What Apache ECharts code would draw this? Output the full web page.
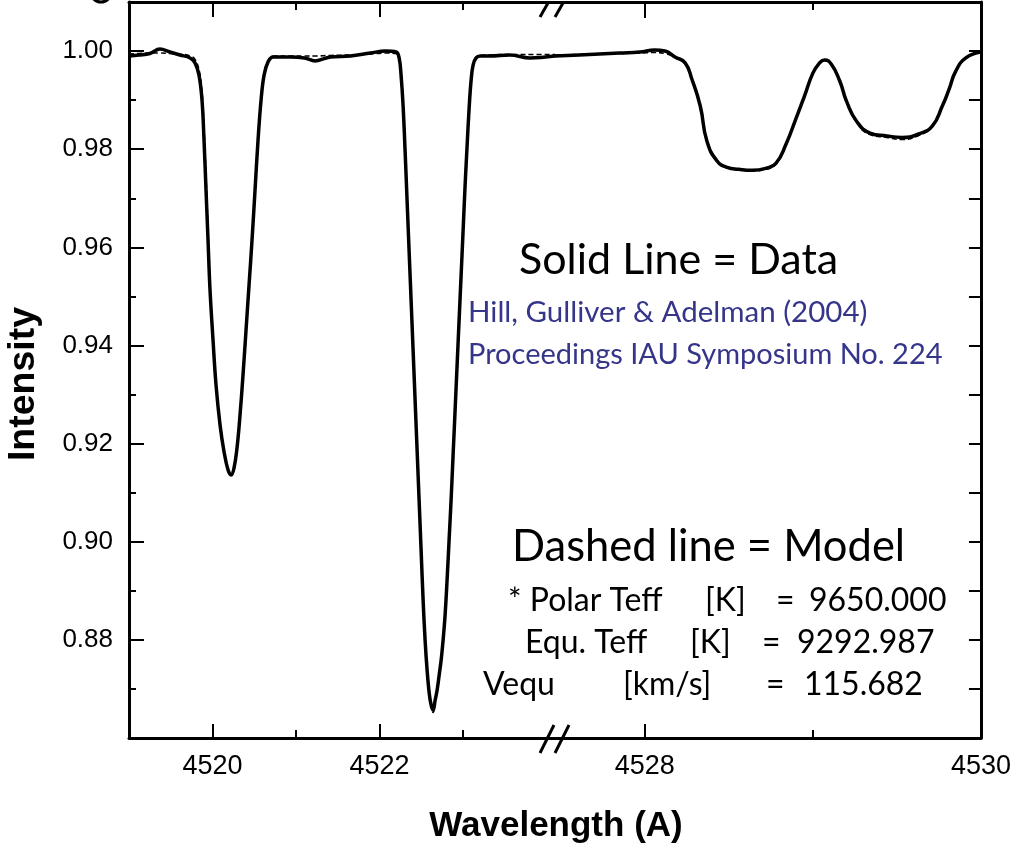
<!DOCTYPE html>
<html>
<head>
<meta charset="utf-8">
<script src="https://cdn.jsdelivr.net/npm/echarts@6/dist/echarts.min.js"></script>
<style>
  html, body { margin: 0; padding: 0; background: #fff; }
  #chart { width: 1014px; height: 849px; }
</style>
</head>
<body>
<div id="chart"></div>
<script>
// ---- Data (wavelength in Angstrom, normalised intensity) ----
// Left panel: 4519.0 - 4524.1 A
const leftWave = [4519.000, 4519.120, 4519.250, 4519.370, 4519.490, 4519.610, 4519.731, 4519.790, 4519.838, 4519.874,
  4519.898, 4519.922, 4519.946, 4519.970, 4520.006, 4520.042, 4520.090, 4520.138, 4520.186, 4520.222,
  4520.257, 4520.293, 4520.329, 4520.365, 4520.401, 4520.437, 4520.473, 4520.509, 4520.545, 4520.581,
  4520.617, 4520.665, 4520.725, 4520.930, 4521.100, 4521.230, 4521.410, 4521.650, 4521.890, 4522.070,
  4522.198, 4522.234, 4522.257, 4522.281, 4522.305, 4522.329, 4522.353, 4522.377, 4522.401, 4522.425,
  4522.449, 4522.473, 4522.497, 4522.521, 4522.545, 4522.569, 4522.593, 4522.617, 4522.641, 4522.665,
  4522.689, 4522.713, 4522.737, 4522.760, 4522.784, 4522.808, 4522.832, 4522.856, 4522.880, 4522.904,
  4522.928, 4522.952, 4522.976, 4523.000, 4523.024, 4523.048, 4523.072, 4523.096, 4523.120, 4523.156,
  4523.204, 4523.320, 4523.560, 4523.800, 4524.100];
const leftData = [0.9990, 0.9992, 0.9995, 1.0004, 0.9998, 0.9992, 0.9986, 0.9976, 0.9951, 0.9900,
  0.9819, 0.9717, 0.9615, 0.9513, 0.9411, 0.9319, 0.9238, 0.9183, 0.9146, 0.9136,
  0.9150, 0.9191, 0.9258, 0.9340, 0.9431, 0.9523, 0.9615, 0.9717, 0.9819, 0.9900,
  0.9951, 0.9978, 0.9988, 0.9988, 0.9986, 0.9980, 0.9988, 0.9990, 0.9996, 1.0000,
  0.9998, 0.9986, 0.9951, 0.9890, 0.9798, 0.9696, 0.9594, 0.9493, 0.9391, 0.9289,
  0.9187, 0.9085, 0.8983, 0.8881, 0.8799, 0.8738, 0.8693, 0.8667, 0.8657, 0.8677,
  0.8698, 0.8728, 0.8759, 0.8799, 0.8850, 0.8922, 0.9003, 0.9085, 0.9177, 0.9268,
  0.9360, 0.9452, 0.9543, 0.9635, 0.9727, 0.9808, 0.9884, 0.9941, 0.9972, 0.9986,
  0.9990, 0.9990, 0.9992, 0.9986, 0.9990];
const leftModel = [0.9994, 0.9995, 0.9996, 0.9996, 0.9995, 0.9994, 0.9990, 0.9983, 0.9962, 0.9918,
  0.9845, 0.9745, 0.9635, 0.9525, 0.9415, 0.9320, 0.9238, 0.9182, 0.9145, 0.9134,
  0.9148, 0.9189, 0.9256, 0.9338, 0.9430, 0.9523, 0.9616, 0.9718, 0.9821, 0.9903,
  0.9953, 0.9980, 0.9990, 0.9990, 0.9990, 0.9990, 0.9991, 0.9992, 0.9994, 0.9996,
  0.9995, 0.9988, 0.9956, 0.9896, 0.9803, 0.9700, 0.9598, 0.9496, 0.9393, 0.9291,
  0.9188, 0.9086, 0.8984, 0.8882, 0.8798, 0.8736, 0.8690, 0.8664, 0.8652, 0.8674,
  0.8696, 0.8727, 0.8758, 0.8799, 0.8851, 0.8923, 0.9005, 0.9087, 0.9178, 0.9270,
  0.9362, 0.9454, 0.9545, 0.9637, 0.9729, 0.9810, 0.9886, 0.9943, 0.9974, 0.9988,
  0.9991, 0.9992, 0.9993, 0.9993, 0.9993];

// Right panel: 4527.47 - 4530.0 A
const rightWave = [4527.466, 4527.61, 4527.73, 4527.85, 4527.97, 4528.06, 4528.12, 4528.18, 4528.24, 4528.28,
  4528.33, 4528.37, 4528.43, 4528.49, 4528.56, 4528.64, 4528.72, 4528.78, 4528.84, 4528.90,
  4528.95, 4529.00, 4529.04, 4529.07, 4529.11, 4529.16, 4529.20, 4529.26, 4529.34, 4529.44,
  4529.53, 4529.63, 4529.71, 4529.77, 4529.81, 4529.85, 4529.91, 4530.00];
const rightData = [0.9990, 0.9992, 0.9994, 0.9996, 0.9998, 1.0002, 1.0000, 0.9988, 0.9976, 0.9943,
  0.9888, 0.9816, 0.9776, 0.9763, 0.9759, 0.9757, 0.9761, 0.9771, 0.9810, 0.9863,
  0.9908, 0.9955, 0.9976, 0.9982, 0.9973, 0.9939, 0.9898, 0.9857, 0.9833, 0.9827,
  0.9824, 0.9831, 0.9847, 0.9888, 0.9922, 0.9959, 0.9986, 0.9998];
const rightModel = [0.9992, 0.9993, 0.9994, 0.9995, 0.9996, 0.9997, 0.9995, 0.9987, 0.9974, 0.9945,
  0.9890, 0.9820, 0.9778, 0.9762, 0.9758, 0.9756, 0.9759, 0.9770, 0.9808, 0.9862,
  0.9908, 0.9954, 0.9975, 0.9981, 0.9972, 0.9940, 0.9898, 0.9855, 0.9830, 0.9824,
  0.9820, 0.9828, 0.9846, 0.9888, 0.9922, 0.9958, 0.9985, 0.9998];

// Tick labels
const leftMajorTicks = [4520, 4522];
const leftMinorTicks = [4521, 4523];
const rightMajorTicks = [4528, 4530];
const rightMinorTicks = [4529];
const yLabelTicks = [0.88, 0.90, 0.92, 0.94, 0.96, 0.98, 1.00];
const yMinorTicks = [0.87, 0.89, 0.91, 0.93, 0.95, 0.97, 0.99];
const yRightTicks = [0.87, 0.88, 0.89, 0.90, 0.91, 0.92, 0.93, 0.94, 0.95, 0.96, 0.97, 0.98, 0.99, 1.00];

// Annotation text
const titleData = 'Solid Line = Data';
const refLine1 = 'Hill, Gulliver & Adelman (2004)';
const refLine2 = 'Proceedings IAU Symposium No. 224';
const titleModel = 'Dashed line = Model';
const paramRows = [
  ['* Polar Teff', '[K]', '=', '9650.000'],
  ['Equ. Teff', '[K]', '=', '9292.987'],
  ['Vequ', '[km/s]', '=', '115.682']
];

// ---- Chart ----
const pair = (xs, ys) => xs.map((x, i) => [x, ys[i]]);
const AX = '#000';
const LBL_FONT = 'Liberation Sans, Arial, sans-serif';
const ANN_FONT = 'Lato, "Open Sans", sans-serif';
const yMin = 0.86, yMax = 1.01;

function xAx(grid, min, max, pos, ticks, len, showLine, labels) {
  return {
    type: 'value', gridIndex: grid, min: min, max: max, position: pos,
    axisLine: { show: showLine, onZero: false, lineStyle: { color: AX, width: 3 } },
    axisTick: { show: true, inside: true, length: len, customValues: ticks, lineStyle: { color: AX, width: 2 } },
    axisLabel: labels ? { show: true, customValues: labels, margin: 15, color: '#000', fontSize: 27, fontFamily: LBL_FONT, formatter: v => String(Math.round(v)) } : { show: false },
    splitLine: { show: false }
  };
}
function yAx(grid, pos, ticks, len, showLine, labels) {
  return {
    type: 'value', gridIndex: grid, min: yMin, max: yMax, position: pos,
    axisLine: { show: showLine, onZero: false, lineStyle: { color: AX, width: 3 } },
    axisTick: { show: true, inside: true, length: len, customValues: ticks, lineStyle: { color: AX, width: 2 } },
    axisLabel: labels ? { show: true, customValues: labels, margin: 16, color: '#000', fontSize: 26, fontFamily: LBL_FONT, formatter: v => v.toFixed(2) } : { show: false },
    splitLine: { show: false }
  };
}

const L0 = 4519.0, L1 = 4524.1, R0 = 4527.466, R1 = 4530.0;
const dataStyle = { color: '#000', width: 3.5 };
const modelStyle = { color: '#000', width: 1.6, type: [5, 3] };

function txt(x, y, text, size, color, extra) {
  return { type: 'text', x: x, y: y, style: Object.assign({ text: text, font: size + 'px ' + ANN_FONT, fill: color || '#000', textVerticalAlign: 'middle' }, extra || {}) };
}

const option = {
  backgroundColor: '#fff',
  animation: false,
  grid: [
    { left: 129, right: 1014 - 555, top: 2, bottom: 849 - 738, containLabel: false },
    { left: 555, right: 1014 - 982, top: 2, bottom: 849 - 738, containLabel: false }
  ],
  xAxis: [
    xAx(0, L0, L1, 'bottom', leftMajorTicks, 14, true, leftMajorTicks),
    xAx(0, L0, L1, 'bottom', leftMinorTicks, 8, false, null),
    xAx(0, L0, L1, 'top', leftMajorTicks, 15, true, null),
    xAx(0, L0, L1, 'top', leftMinorTicks, 8, false, null),
    xAx(1, R0, R1, 'bottom', rightMajorTicks, 14, true, rightMajorTicks),
    xAx(1, R0, R1, 'bottom', rightMinorTicks, 8, false, null),
    xAx(1, R0, R1, 'top', rightMajorTicks, 16, true, null),
    xAx(1, R0, R1, 'top', rightMinorTicks, 8, false, null)
  ],
  yAxis: [
    yAx(0, 'left', yLabelTicks, 15, true, yLabelTicks),
    yAx(0, 'left', yMinorTicks, 7, false, null),
    yAx(1, 'right', yRightTicks, 12, true, null)
  ],
  series: [
    { type: 'line', name: 'Model', xAxisIndex: 0, yAxisIndex: 0, data: pair(leftWave, leftModel),
      showSymbol: false, smooth: 0.4, lineStyle: modelStyle, z: 3 },
    { type: 'line', name: 'Data', xAxisIndex: 0, yAxisIndex: 0, data: pair(leftWave, leftData),
      showSymbol: false, smooth: 0.4, lineStyle: dataStyle, z: 2 },
    { type: 'line', name: 'Model', xAxisIndex: 4, yAxisIndex: 2, data: pair(rightWave, rightModel),
      showSymbol: false, smooth: 0.5, lineStyle: modelStyle, z: 3 },
    { type: 'line', name: 'Data', xAxisIndex: 4, yAxisIndex: 2, data: pair(rightWave, rightData),
      showSymbol: false, smooth: 0.5, lineStyle: dataStyle, z: 2 }
  ],
  graphic: [
    // partial panel marker at top-left
    { type: 'circle', shape: { cx: 101, cy: -8, r: 10 }, style: { fill: 'none', stroke: '#000', lineWidth: 3 } },
    // axis break marks
    { type: 'line', shape: { x1: 540, y1: 17, x2: 548, y2: 3 }, style: { stroke: '#000', lineWidth: 3 } },
    { type: 'line', shape: { x1: 555, y1: 17, x2: 563, y2: 3 }, style: { stroke: '#000', lineWidth: 3 } },
    { type: 'line', shape: { x1: 540, y1: 753, x2: 554, y2: 725 }, style: { stroke: '#000', lineWidth: 3 } },
    { type: 'line', shape: { x1: 555, y1: 753, x2: 569, y2: 725 }, style: { stroke: '#000', lineWidth: 3 } },
    // axis titles
    { type: 'text', x: 556, y: 826, style: { text: 'Wavelength (A)', font: 'bold 35px ' + LBL_FONT, fill: '#000', textAlign: 'center', textVerticalAlign: 'middle' } },
    { type: 'text', x: 24, y: 384, rotation: Math.PI / 2, style: { text: 'Intensity', font: 'bold 37.5px ' + LBL_FONT, fill: '#000', textAlign: 'center', textVerticalAlign: 'middle' } },
    // annotations
    txt(519, 260, titleData, 43),
    txt(468, 312, refLine1, 29.5, '#35358a'),
    txt(468, 355, refLine2, 29, '#35358a'),
    txt(512, 547, titleModel, 43.5),
    txt(508, 601, paramRows[0][0], 32), txt(705, 601, paramRows[0][1], 32), txt(776, 601, paramRows[0][2], 32), txt(809, 601, paramRows[0][3], 32),
    txt(525, 643, paramRows[1][0], 32), txt(690, 643, paramRows[1][1], 32), txt(762, 643, paramRows[1][2], 32), txt(797, 643, paramRows[1][3], 32),
    txt(483, 685, paramRows[2][0], 32), txt(623, 685, paramRows[2][1], 32), txt(766, 685, paramRows[2][2], 32), txt(804, 685, paramRows[2][3], 32)
  ]
};

const chart = echarts.init(document.getElementById('chart'), null, { renderer: 'canvas' });
chart.setOption(option);
</script>
</body>
</html>
